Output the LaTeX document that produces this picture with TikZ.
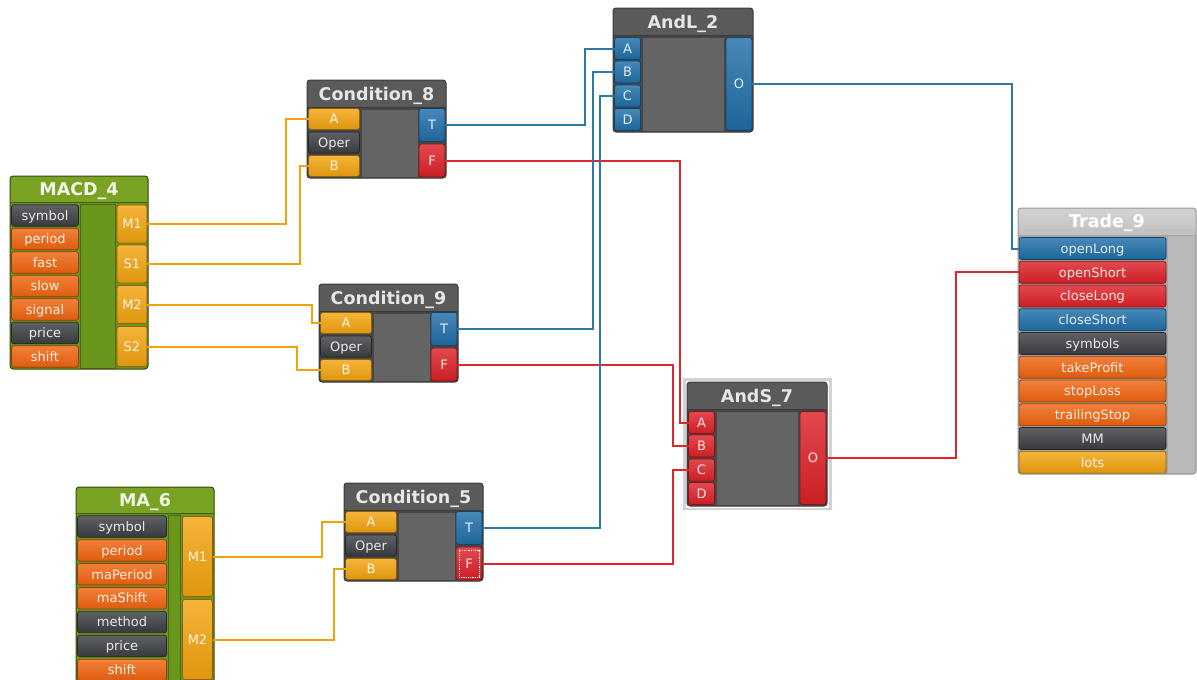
\documentclass[tikz,border=0pt]{standalone}
\usepackage{fontspec}
\setmainfont{DejaVu Sans}
\definecolor{cdk}{HTML}{3C3F43}
\definecolor{cog}{HTML}{F0640F}
\definecolor{cyo}{HTML}{F2A30F}
\definecolor{cbl}{HTML}{1F6EA8}
\definecolor{crd}{HTML}{DC2127}
\definecolor{cgt}{HTML}{7BA323}
\definecolor{cgb}{HTML}{6A961C}
\definecolor{cgy}{HTML}{5A5A5A}
\definecolor{cmid}{HTML}{646464}
\definecolor{cbody}{HTML}{474747}
\definecolor{cframe}{HTML}{3A3A3A}
\definecolor{cttl}{HTML}{E6E6E6}
\definecolor{lor}{HTML}{EFA20C}
\definecolor{lbl}{HTML}{2C78AA}
\definecolor{lrd}{HTML}{E0262B}
\tikzset{
 port/.style={rounded corners=2.5pt, draw=#1!60!black, line width=0.7pt, top color=#1!82!white, bottom color=#1!92!black, text=#1!12!white, font=\fontsize{13}{13}\selectfont, text height=9.5pt, text depth=0pt, inner sep=0pt, outer sep=0pt},
 blkttl/.style={font=\bfseries\fontsize{17.5}{17.5}\selectfont, text=#1, text height=12.7pt, text depth=0pt, inner sep=0pt},
 blkframe/.style={draw=cframe, line width=1pt, rounded corners=3pt},
 wire/.style={line width=2pt, draw=#1},
}
\newcommand{\condblk}[4]{%
\begin{scope}[shift={(#2,#3)}]
\fill[cbody, rounded corners=3pt] (0,0) rectangle (139,98);
\fill[cgy, rounded corners=3pt] (0,0) rectangle (139,27);
\fill[cgy] (0,20) rectangle (139,27);
\draw[cframe, line width=0.6pt] (0,27.5) -- (139,27.5);
\draw[cmid!70!black, fill=cmid, line width=0.6pt] (54,29) rectangle (111,97);
\node[port=cyo, minimum width=51pt, minimum height=21pt] (#1A) at (27,39) {A};
\node[port=cdk, minimum width=51pt, minimum height=21pt] (#1Op) at (27,62.5) {Oper};
\node[port=cyo, minimum width=51pt, minimum height=21pt] (#1B) at (27,86) {B};
\node[port=cbl, minimum width=26pt, minimum height=33pt] (#1T) at (125,45) {T};
\node[port=crd, minimum width=26pt, minimum height=33pt] (#1F) at (125,80.5) {F};
\node[blkttl=cttl] (#1t) at (69.5,14) {#4};
\draw[blkframe] (0,0) rectangle (139,98);
\end{scope}}
\newcommand{\andblk}[5]{%
\begin{scope}[shift={(#2,#3)}]
\fill[cbody, rounded corners=3pt] (0,0) rectangle (140,124);
\fill[cgy, rounded corners=3pt] (0,0) rectangle (140,27);
\fill[cgy] (0,20) rectangle (140,27);
\draw[cframe, line width=0.6pt] (0,27.5) -- (140,27.5);
\draw[cmid!70!black, fill=cmid, line width=0.6pt] (29,29) rectangle (111,123);
\node[port=#5, minimum width=26pt, minimum height=22pt] (#1A) at (14.5,40.5) {A};
\node[port=#5, minimum width=26pt, minimum height=22pt] (#1B) at (14.5,64) {B};
\node[port=#5, minimum width=26pt, minimum height=22pt] (#1C) at (14.5,88) {C};
\node[port=#5, minimum width=26pt, minimum height=22pt] (#1D) at (14.5,111.5) {D};
\node[port=#5, minimum width=26pt, minimum height=93pt] (#1O) at (126,76) {O};
\node[blkttl=cttl] (#1t) at (70,14) {#4};
\draw[blkframe] (0,0) rectangle (140,124);
\end{scope}}
\begin{document}
\begin{tikzpicture}[x=1pt,y=-1pt]
\fill[white] (0,0) rectangle (1197,680);
\useasboundingbox (0,0) rectangle (1197,680);

% ---------- MACD_4 ----------
\fill[cgb, rounded corners=3pt] (10,176) rectangle (148,369);
\fill[cgt, rounded corners=3pt] (10,176) rectangle (148,202);
\fill[cgt] (10,195) rectangle (148,202);
\draw[cgb!60!black, line width=0.6pt] (10,202.5) -- (148,202.5);
\draw[cgb!70!black, fill=cgb, line width=0.6pt] (80,204) rectangle (115,368);
\node[port=cdk, minimum width=67pt, minimum height=21.5pt] (m4sym) at (45,215.5) {symbol};
\node[port=cog, minimum width=67pt, minimum height=21.5pt] (m4per) at (45,239) {period};
\node[port=cog, minimum width=67pt, minimum height=21.5pt] (m4fast) at (45,262.5) {fast};
\node[port=cog, minimum width=67pt, minimum height=21.5pt] (m4slow) at (45,286) {slow};
\node[port=cog, minimum width=67pt, minimum height=21.5pt] (m4sig) at (45,309.5) {signal};
\node[port=cdk, minimum width=67pt, minimum height=21.5pt] (m4pr) at (45,333) {price};
\node[port=cog, minimum width=67pt, minimum height=21.5pt] (m4sh) at (45,356.5) {shift};
\node[port=cyo, minimum width=30pt, minimum height=38pt] (m4M1) at (132,224) {M1};
\node[port=cyo, minimum width=30pt, minimum height=38pt] (m4S1) at (132,264) {S1};
\node[port=cyo, minimum width=30pt, minimum height=38pt] (m4M2) at (132,304.5) {M2};
\node[port=cyo, minimum width=30pt, minimum height=40pt] (m4S2) at (132,346.5) {S2};
\node[blkttl=cgt!10!white] (m4t) at (79,189.5) {MACD\_4};
\draw[blkframe, draw=cgb!50!black] (10,176) rectangle (148,369);

% ---------- MA_6 ----------
\fill[cgb, rounded corners=3pt] (76,487) rectangle (214,683);
\fill[cgt, rounded corners=3pt] (76,487) rectangle (214,513);
\fill[cgt] (76,506) rectangle (214,513);
\draw[cgb!60!black, line width=0.6pt] (76,513.5) -- (214,513.5);
\draw[cgb!70!black, fill=cgb, line width=0.6pt] (168,515) rectangle (180,682);
\node[port=cdk, minimum width=89pt, minimum height=21.5pt] (masym) at (122,526.5) {symbol};
\node[port=cog, minimum width=89pt, minimum height=21.5pt] (maper) at (122,550.4) {period};
\node[port=cog, minimum width=89pt, minimum height=21.5pt] (mamap) at (122,574.3) {maPeriod};
\node[port=cog, minimum width=89pt, minimum height=21.5pt] (mamas) at (122,598.2) {maShift};
\node[port=cdk, minimum width=89pt, minimum height=21.5pt] (mamet) at (122,622.1) {method};
\node[port=cdk, minimum width=89pt, minimum height=21.5pt] (mapr) at (122,646) {price};
\node[port=cog, minimum width=89pt, minimum height=21.5pt] (mash) at (122,669.9) {shift};
\node[port=cyo, minimum width=30pt, minimum height=80pt] (maM1) at (197.5,556.5) {M1};
\node[port=cyo, minimum width=30pt, minimum height=80pt] (maM2) at (197.5,639.5) {M2};
\node[blkttl=cgt!10!white] (mat) at (145,500.5) {MA\_6};
\draw[blkframe, draw=cgb!50!black] (76,487) rectangle (214,683);

% ---------- Conditions ----------
\condblk{c8}{307}{80}{Condition\_8}
\condblk{c9}{319}{284}{Condition\_9}
\condblk{c5}{344}{483}{Condition\_5}
\node[draw=white, densely dotted, line width=0.8pt, minimum width=20pt, minimum height=27pt, inner sep=0pt] (c5Fsel) at (c5F) {};

% ---------- And blocks ----------
\andblk{al}{613}{8}{AndL\_2}{cbl}
\draw[gray!35, line width=2.5pt] (684.5,379.5) rectangle (830.5,509);
\andblk{as}{687}{382}{AndS\_7}{crd}

% ---------- Trade_9 ----------
\fill[gray!70, rounded corners=3pt] (1018,208) rectangle (1196,474);
\shade[top color=gray!35, bottom color=gray!48, rounded corners=3pt] (1018,208) rectangle (1196,235);
\fill[gray!48] (1018,229) rectangle (1196,235);
\fill[gray!55] (1167.5,236) rectangle (1195,473);
\node[port=cbl, minimum width=147pt, minimum height=22pt] (trOL) at (1092.5,248.5) {openLong};
\node[port=crd, minimum width=147pt, minimum height=22pt] (trOS) at (1092.5,272.25) {openShort};
\node[port=crd, minimum width=147pt, minimum height=22pt] (trCL) at (1092.5,296) {closeLong};
\node[port=cbl, minimum width=147pt, minimum height=22pt] (trCS) at (1092.5,319.75) {closeShort};
\node[port=cdk, minimum width=147pt, minimum height=22pt] (trSy) at (1092.5,343.5) {symbols};
\node[port=cog, minimum width=147pt, minimum height=22pt] (trTP) at (1092.5,367.25) {takeProfit};
\node[port=cog, minimum width=147pt, minimum height=22pt] (trSL) at (1092.5,391) {stopLoss};
\node[port=cog, minimum width=147pt, minimum height=22pt] (trTS) at (1092.5,414.75) {trailingStop};
\node[port=cdk, minimum width=147pt, minimum height=22pt] (trMM) at (1092.5,438.5) {MM};
\node[port=cyo, minimum width=147pt, minimum height=22pt] (trLo) at (1092.5,462.25) {lots};
\node[blkttl=white] (trt) at (1107,221.5) {Trade\_9};
\draw[blkframe, draw=gray!80] (1018,208) rectangle (1196,474);

% ---------- Wires ----------
\draw[wire=lor] (m4M1.east) -- ++(139,0) |- (c8A.west);
\draw[wire=lor] (m4S1.east) -- ++(153,0) |- (c8B.west);
\draw[wire=lor] (m4M2.east) -- ++(165,0) |- (c9A.west);
\draw[wire=lor] (m4S2.east) -- ++(150,0) |- (c9B.west);
\draw[wire=lor] (maM1.east) -- ++(109,0) |- (c5A.west);
\draw[wire=lor] (maM2.east) -- ++(121,0) |- (c5B.west);
\draw[wire=lrd] (c8F.east) -- ++(235,0) |- (asA.west);
\draw[wire=lrd] (c9F.east) -- ++(216,0) |- (asB.west);
\draw[wire=lrd] (c5F.east) -- ++(191,0) |- (asC.west);
\draw[wire=lrd] (asO.east) -- ++(130,0) |- (trOS.west);
\draw[wire=lbl] (c8T.east) -- ++(140,0) |- (alA.west);
\draw[wire=lbl] (c9T.east) -- ++(136,0) |- (alB.west);
\draw[wire=lbl] (c5T.east) -- ++(118,0) |- (alC.west);
\draw[wire=lbl] (alO.east) -- ++(260,0) |- (trOL.west);
\end{tikzpicture}
\end{document}
